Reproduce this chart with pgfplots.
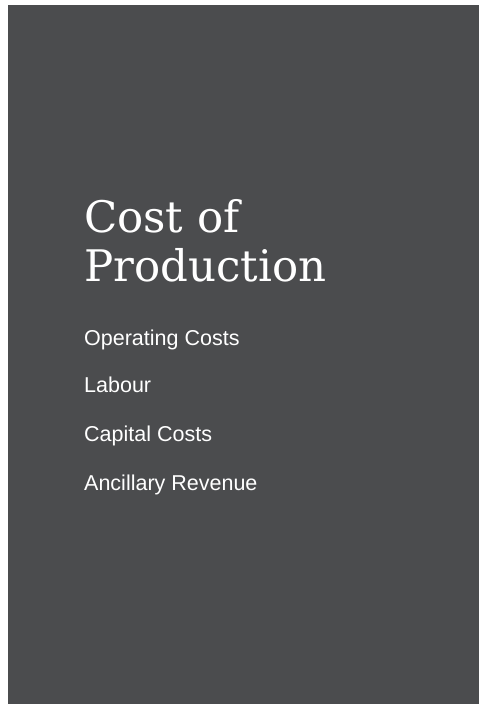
\documentclass[border=0pt]{standalone}
\usepackage{fontspec}
\setmainfont{Liberation Sans}
\newfontfamily\titlefont{DejaVu Serif}
\usepackage{pgfplots}
\pgfplotsset{compat=1.18}
\definecolor{bg}{HTML}{4B4C4E}
\begin{document}
\begin{tikzpicture}[x=1pt,y=1pt]
\begin{axis}[
  at={(0pt,0pt)}, anchor=south west,
  scale only axis, width=479pt, height=704pt,
  xmin=0, xmax=479, ymin=0, ymax=704,
  hide axis, clip=false,
]
\addplot[fill=bg, draw=none] coordinates {(8,0) (479,0) (479,699) (8,699)} -- cycle;
\node[anchor=base west, text=white, inner sep=0pt, font=\titlefont\fontsize{43.5}{50}\selectfont] at (axis cs:84,471) {Cost of};
\node[anchor=base west, text=white, inner sep=0pt, font=\titlefont\fontsize{43.5}{50}\selectfont] at (axis cs:84,422) {Production};
\node[anchor=base west, text=white, inner sep=0pt, font=\fontsize{21.5}{25}\selectfont] at (axis cs:84,358) {Operating Costs};
\node[anchor=base west, text=white, inner sep=0pt, font=\fontsize{21.5}{25}\selectfont] at (axis cs:84,311) {Labour};
\node[anchor=base west, text=white, inner sep=0pt, font=\fontsize{21.5}{25}\selectfont] at (axis cs:84,262) {Capital Costs};
\node[anchor=base west, text=white, inner sep=0pt, font=\fontsize{21.5}{25}\selectfont] at (axis cs:84,213) {Ancillary Revenue};
\end{axis}
\useasboundingbox (0,0) rectangle (479,704);
\end{tikzpicture}
\end{document}
